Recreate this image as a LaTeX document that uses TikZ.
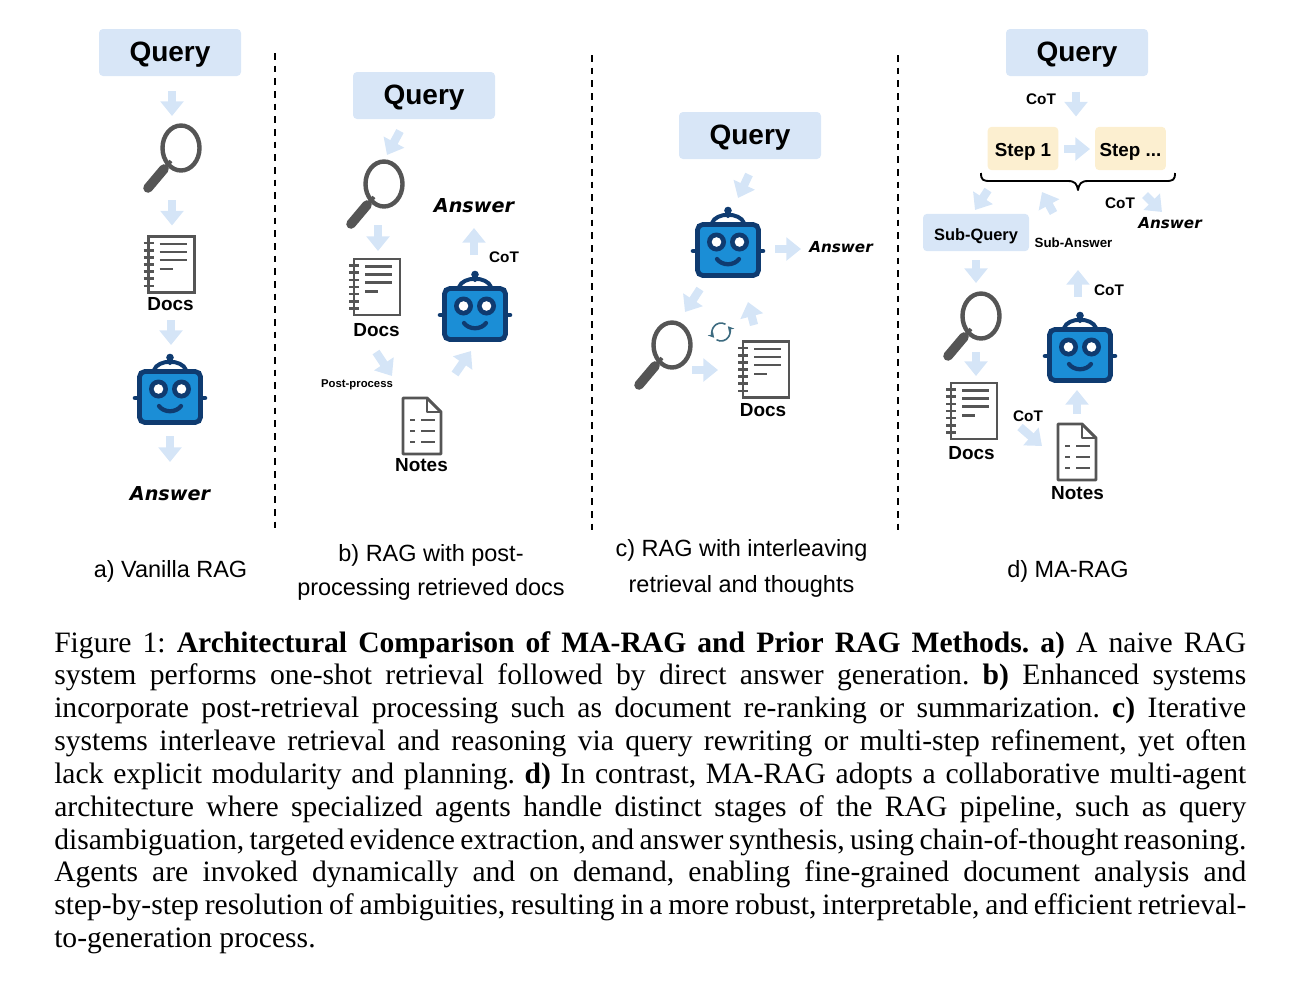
\documentclass[tikz,border=0pt]{standalone}
\usepackage{fontspec}
\setmainfont{Liberation Serif}
\newfontfamily\sansf{Liberation Sans}
\newfontfamily\ansf{DejaVu Sans}
\usetikzlibrary{arrows.meta,calc}
\definecolor{qblue}{HTML}{D8E6F7}
\definecolor{arrowblue}{HTML}{D5E5F7}
\definecolor{stepy}{HTML}{FCEFD0}
\definecolor{icong}{HTML}{555555}
\definecolor{robotb}{HTML}{1B8ED6}
\definecolor{robotd}{HTML}{0F3B70}
\definecolor{loopc}{HTML}{3D6B80}
\newcommand{\fs}[1]{\fontsize{#1}{#1}\selectfont}
\newcommand{\capline}[1]{\hbox to 894pt{#1}}
\tikzset{
  x=0.75pt,y=-0.75pt,
  querybox/.style={rectangle,rounded corners=3pt,fill=qblue,minimum width=106.5pt,minimum height=35.25pt,inner sep=0pt,text height=17.85pt,text depth=4.2pt,font=\sansf\bfseries\fs{21}},
  stepbox/.style={rectangle,rounded corners=3pt,fill=stepy,minimum width=53pt,minimum height=32.5pt,inner sep=0pt,text height=13.4pt,text depth=1.7pt,font=\sansf\bfseries\fs{14.1}},
  subq/.style={rectangle,rounded corners=3pt,fill=qblue,minimum width=79.5pt,minimum height=28pt,inner sep=0pt,text height=12.9pt,text depth=.6pt,font=\sansf\bfseries\fs{12.3}},
  icon/.style={rectangle,inner sep=0pt,minimum width=30pt,minimum height=30pt},
  lbl/.style={inner sep=0pt,font=\sansf\bfseries\fs{14.2}},
  cot/.style={inner sep=0pt,font=\sansf\bfseries\fs{11.5}},
  anslbl/.style={inner sep=0pt,font=\ansf\bfseries\itshape\fs{14.4}},
  anssm/.style={inner sep=0pt,font=\ansf\bfseries\itshape\fs{11.4}},
  subcap/.style={inner sep=0pt,align=center,font=\sansf\fs{17.6}},
  ba/.style={draw=arrowblue,line width=6.2pt,-{Triangle[length=11pt,width=17pt]}},
  sep/.style={black,line width=1.5pt,dash pattern=on 5pt off 4.5pt},
  mag/.pic={
    \draw[icong,line width=3.3pt] (9,-10) ellipse [x radius=18.5,y radius=22.5];
    \draw[icong,line width=2.8pt] (-1,3) -- (-8,11);
    \draw[icong,line width=7.2pt,line cap=round] (-8,11) -- (-24,30);
  },
  docicon/.pic={
    \draw[icong,line width=2.2pt] (-23,-28) rectangle (23,28);
    \foreach \yy in {-21.5,-14.3,-7.1,0,7.1,14.3,21.5} \draw[icong,line width=2pt] (-28,\yy) -- (-18,\yy);
    \foreach \yy in {-20.5,-12.5,-4.5} \draw[icong,line width=2pt] (-12,\yy) -- (15,\yy);
    \draw[icong,line width=2pt] (-12,4.5) -- (1,4.5);
  },
  noteicon/.pic={
    \draw[icong,line width=2.2pt,line join=round] (-19,-28) -- (5,-28) -- (19,-14) -- (19,28) -- (-19,28) -- cycle;
    \draw[icong,line width=2.2pt,line join=round] (5,-28) -- (5,-14) -- (19,-14);
    \foreach \yy in {-6,5,16}{
      \draw[icong,line width=2pt] (-12,\yy) -- (-7,\yy);
      \draw[icong,line width=2pt] (-1,\yy) -- (13,\yy);
    }
  },
  robot/.pic={
    \draw[robotd,line width=3pt,line cap=round,fill=white] (-16,-27) .. controls (-12,-38) and (12,-38) .. (16,-27);
    \fill[robotd] (0,-39.5) circle[radius=3.8];
    \draw[robotd,line width=3pt,line cap=round] (0,-38) -- (0,-34);
    \draw[robotd,line width=3.4pt,line cap=round] (-35,1) -- (35,1);
    \draw[robotd,line width=3.6pt,fill=robotb,rounded corners=4pt] (-30.5,-25.5) rectangle (30.5,25.5);
    \foreach \xx in {-11.5,11.5}{
      \fill[robotd] (\xx,-8) circle[radius=9.5];
      \fill[white] (\xx,-8) circle[radius=4.8];
    }
    \draw[robotd,line width=3.2pt,line cap=round] (-11,9) .. controls (-6,16) and (6,16) .. (11,9);
  },
}
\newcommand{\ar}[4]{\draw[ba] ([shift={(#2)}]#1.center) -- ([shift={(#4)}]#3.center);}
\begin{document}
\begin{tikzpicture}
\useasboundingbox (0,0) rectangle (1300,983);
% separators
\coordinate (s1a) at (275,53); \coordinate (s1b) at (275,531);
\coordinate (s2a) at (592,55); \coordinate (s2b) at (592,531);
\coordinate (s3a) at (898,55); \coordinate (s3b) at (898,531);
\draw[sep] (s1a) -- (s1b);
\draw[sep] (s2a) -- (s2b);
\draw[sep] (s3a) -- (s3b);

% panel a
\node[querybox] (qa) at (170,52.5) {Query};
\node[icon] (maga) at (172,158) {}; \pic at (maga) {mag};
\node[icon] (doca) at (171.5,264.5) {}; \pic at (doca) {docicon};
\node[lbl] (doclbla) at (170.5,304) {Docs};
\node[icon] (robota) at (170,397) {}; \pic at (robota) {robot};
\node[anslbl] (ansa) at (170,494) {Answer};
\ar{qa}{2,38.5}{maga}{0,-42}
\ar{maga}{0,42}{doca}{0.5,-39}
\ar{doca}{-0.5,55.5}{robota}{1,-52}
\ar{robota}{0,39}{ansa}{0,-32}
\node[subcap] (capa) at (170.5,571) {a) Vanilla RAG};

% panel b
\node[querybox] (qb) at (424,95.5) {Query};
\node[icon] (magb) at (375,194) {}; \pic at (magb) {mag};
\node[icon] (docb) at (377,287) {}; \pic at (docb) {docicon};
\node[lbl] (doclblb) at (376.5,330) {Docs};
\node[cot] (ppb) at (357,384.5) {\fs{8.5}Post-process};
\node[icon] (noteb) at (422,426) {}; \pic at (noteb) {noteicon};
\node[lbl] (notelblb) at (421.5,465) {Notes};
\node[icon] (robotbn) at (475,314) {}; \pic at (robotbn) {robot};
\node[anslbl] (ansb) at (474,206) {Answer};
\node[cot] (cotb) at (504,257) {CoT};
\ar{qb}{-24,35.5}{magb}{12,-39}
\ar{magb}{3,31}{docb}{1,-36}
\ar{docb}{-1,65}{noteb}{-30,-50}
\ar{noteb}{33,-52}{robotbn}{-4,37}
\ar{robotbn}{-1,-59}{ansb}{0,22}
\node[subcap] (capb) at (431,572.5) {b) RAG with post-\\[8pt]processing retrieved docs};

% panel c
\node[querybox] (qc) at (750,135.5) {Query};
\node[icon] (robotc) at (728,250) {}; \pic at (robotc) {robot};
\node[anssm] (ansc) at (841,247) {Answer};
\node[icon] (magc) at (663,355) {}; \pic at (magc) {mag};
\node[icon] (docc) at (766,369.5) {}; \pic at (docc) {docicon};
\node[lbl] (doclblc) at (763,410) {Docs};
\node[inner sep=0pt,minimum size=15pt] (loopn) at (721,332) {};
\draw[loopc,line width=1.2pt,-{Stealth[length=4.5pt,width=5pt]}] ([shift={(-60:9)}]loopn.center) arc[start angle=-60,delta angle=-160,radius=9];
\draw[loopc,line width=1.2pt,-{Stealth[length=4.5pt,width=5pt]}] ([shift={(120:9)}]loopn.center) arc[start angle=120,delta angle=-160,radius=9];
\ar{qc}{-1,39}{robotc}{10,-52}
\ar{robotc}{47,-1}{ansc}{-40,2}
\ar{robotc}{-28,39}{magc}{22,-43}
\ar{magc}{29,15}{docc}{-48,0.5}
\ar{docc}{-12,-44.5}{robotc}{20,52}
\node[subcap] (capc) at (741.5,568) {c) RAG with interleaving\\[9.5pt]retrieval and thoughts};

% panel d
\node[querybox] (qd) at (1077,52.5) {Query};
\node[cot] (cotd1) at (1041,99) {CoT};
\node[stepbox] (s1) at (1023,148.5) {Step 1};
\node[stepbox] (sn) at (1130.5,148.5) {Step ...};
\coordinate (brace) at (1078,190);
\draw[black,line width=1.4pt,line join=round] (981,173) .. controls (981,180) and (983,181) .. (990,181) -- (1068,181) .. controls (1075,181) and (1077,184) .. (brace) .. controls (1079,184) and (1081,181) .. (1088,181) -- (1166,181) .. controls (1173,181) and (1175,180) .. (1175,173);
\node[cot] (cotd2) at (1120,203) {CoT};
\node[anssm] (ansd) at (1170,223) {Answer};
\node[subq] (sq) at (976,232.5) {Sub-Query};
\node[cot] (sa) at (1073.5,243) {\fs{10}Sub-Answer};
\node[icon] (magd) at (972,326) {}; \pic at (magd) {mag};
\node[icon] (docd) at (974,411) {}; \pic at (docd) {docicon};
\node[lbl] (doclbld) at (971.5,453) {Docs};
\node[cot] (cotd3) at (1028,416) {CoT};
\node[icon] (noted) at (1077,452) {}; \pic at (noted) {noteicon};
\node[lbl] (notelbld) at (1077.5,493) {Notes};
\node[icon] (robotdn) at (1080,355) {}; \pic at (robotdn) {robot};
\node[cot] (cotd4) at (1109,290) {CoT};
\ar{qd}{-1,39}{s1}{53,-32}
\ar{s1}{41,0.5}{sn}{-40.5,0.5}
\draw[ba] ([shift={(-90,0)}]brace) -- ([shift={(-1,-22.5)}]sq.center);
\ar{sa}{-20,-30}{s1}{19,43.5}
\draw[ba] ([shift={(67,5)}]brace) -- ([shift={(-8,-11)}]ansd.center);
\ar{sq}{0,27.5}{magd}{4,-43}
\ar{magd}{4,26}{docd}{2,-35}
\ar{docd}{46,16}{noted}{-35,-6}
\ar{noted}{0,-38}{robotdn}{-3,35}
\ar{robotdn}{-2,-58}{sa}{4.5,27}
\node[subcap] (capd) at (1068,571) {d) MA-RAG};

% caption
\node[anchor=base west,inner sep=0pt,font=\fs{22.2}] (figcap) at (54,652) {\vtop{%
\frenchspacing\baselineskip=24.63pt\lineskiplimit=-100pt\spaceskip=.25em plus .5em minus .17em\relax
\capline{Figure 1: \textbf{Architectural Comparison of MA-RAG and Prior RAG Methods. a)} A naive RAG}
\capline{system performs one-shot retrieval followed by direct answer generation. \textbf{b)} Enhanced systems}
\capline{incorporate post-retrieval processing such as document re-ranking or summarization. \textbf{c)} Iterative}
\capline{systems interleave retrieval and reasoning via query rewriting or multi-step refinement, yet often}
\capline{lack explicit modularity and planning. \textbf{d)} In contrast, MA-RAG adopts a collaborative multi-agent}
\capline{architecture where specialized agents handle distinct stages of the RAG pipeline, such as query}
\capline{disambiguation, targeted evidence extraction, and answer synthesis, using chain-of-thought reasoning.}
\capline{Agents are invoked dynamically and on demand, enabling fine-grained document analysis and}
\capline{step-by-step resolution of ambiguities, resulting in a more robust, interpretable, and efficient retrieval-}
\hbox{to-generation process.}}};
\end{tikzpicture}
\end{document}
